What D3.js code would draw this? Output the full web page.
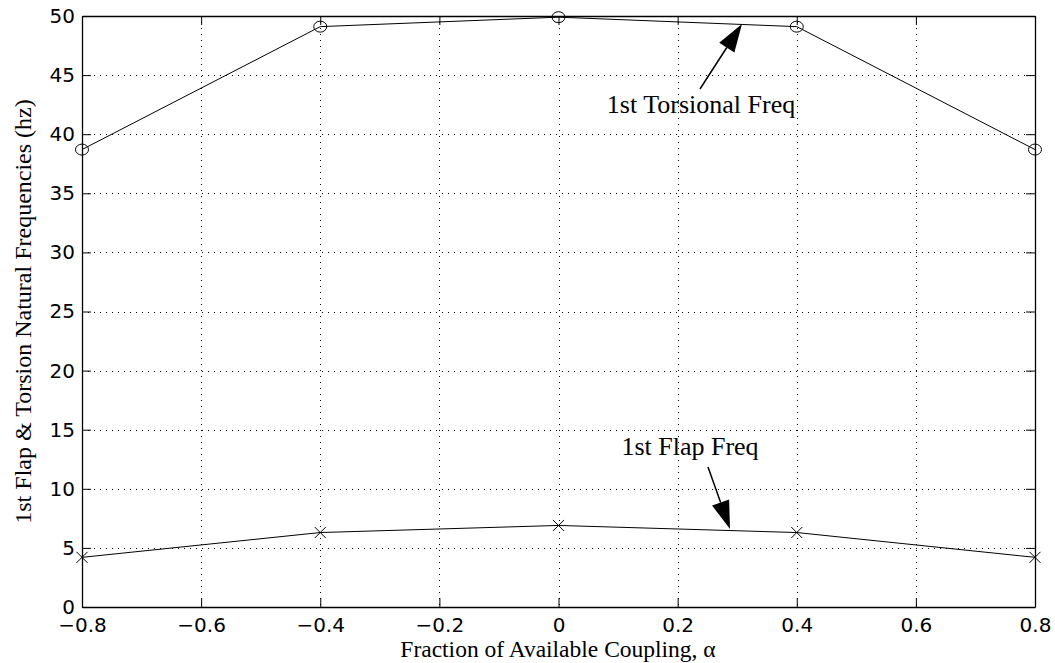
<!DOCTYPE html>
<html>
<head>
<meta charset="utf-8">
<script src="https://cdn.jsdelivr.net/npm/d3@7"></script>
<style>
  html, body { margin: 0; padding: 0; background: #fff; }
  svg { display: block; }
</style>
</head>
<body>
<svg id="chart" width="1055" height="663"></svg>
<script>
// Coupling fraction alpha
const alpha = [-0.8, -0.4, 0, 0.4, 0.8];
// 1st torsional natural frequency (hz)
const torsionFreq = [38.7, 49.1, 49.9, 49.1, 38.7];
// 1st flap natural frequency (hz)
const flapFreq = [4.2, 6.3, 6.9, 6.3, 4.2];
// Tick values
const xTicks = [-0.8, -0.6, -0.4, -0.2, 0, 0.2, 0.4, 0.6, 0.8];
const yTicks = [0, 5, 10, 15, 20, 25, 30, 35, 40, 45, 50];

const W = 1055, H = 663;
const m = { left: 82, right: 20, top: 16, bottom: 56 };
const svg = d3.select("#chart");

const x = d3.scaleLinear().domain([-0.8, 0.8]).range([m.left, W - m.right]);
const y = d3.scaleLinear().domain([0, 50]).range([H - m.bottom, m.top]);

const fmt = d => (d < 0 ? "\u2212" + Math.abs(d) : String(d));
const tickFont = "DejaVu Sans, sans-serif";
const serif = "Liberation Serif, Times New Roman, serif";

// dotted grid
const grid = svg.append("g").attr("stroke", "#000").attr("stroke-width", 1)
  .attr("stroke-dasharray", "1,5").attr("shape-rendering", "crispEdges");
xTicks.slice(1, -1).forEach(t => {
  grid.append("line").attr("x1", Math.round(x(t)) + 0.5).attr("x2", Math.round(x(t)) + 0.5)
    .attr("y1", y(50)).attr("y2", y(0));
});
yTicks.slice(1, -1).forEach(t => {
  grid.append("line").attr("y1", Math.round(y(t)) + 0.5).attr("y2", Math.round(y(t)) + 0.5)
    .attr("x1", x(-0.8)).attr("x2", x(0.8));
});

// axes with inward ticks on all four sides
const tl = 9;
const axB = svg.append("g").attr("transform", `translate(0,${y(0)})`)
  .call(d3.axisBottom(x).tickValues(xTicks).tickSizeInner(-tl).tickSizeOuter(0).tickPadding(11).tickFormat(fmt));
const axT = svg.append("g").attr("transform", `translate(0,${y(50)})`)
  .call(d3.axisTop(x).tickValues(xTicks).tickSizeInner(-tl).tickSizeOuter(0).tickFormat(""));
const axL = svg.append("g").attr("transform", `translate(${x(-0.8)},0)`)
  .call(d3.axisLeft(y).tickValues(yTicks).tickSizeInner(-tl).tickSizeOuter(0).tickPadding(7).tickFormat(fmt));
const axR = svg.append("g").attr("transform", `translate(${x(0.8)},0)`)
  .call(d3.axisRight(y).tickValues(yTicks).tickSizeInner(-tl).tickSizeOuter(0).tickFormat(""));

[axB, axT, axL, axR].forEach(a => {
  a.select(".domain").attr("stroke", "#000").attr("stroke-width", 1.3);
  a.selectAll(".tick line").attr("stroke", "#000").attr("stroke-width", 1);
  a.selectAll("text").attr("font-family", tickFont).attr("font-size", 20).attr("fill", "#000");
});
axB.selectAll("text").attr("dy", "0.71em");

// series lines
const line = d3.line().x((d, i) => x(alpha[i])).y(d => y(d));
svg.append("path").datum(torsionFreq).attr("d", line)
  .attr("fill", "none").attr("stroke", "#000").attr("stroke-width", 1);
svg.append("path").datum(flapFreq).attr("d", line)
  .attr("fill", "none").attr("stroke", "#000").attr("stroke-width", 1);

// circle markers for torsion
svg.append("g").selectAll("ellipse").data(torsionFreq).join("ellipse")
  .attr("cx", (d, i) => x(alpha[i])).attr("cy", d => y(d))
  .attr("rx", 6.5).attr("ry", 5.5)
  .attr("fill", "none").attr("stroke", "#000").attr("stroke-width", 1);

// cross markers for flap
const cs = 5.5;
svg.append("g").selectAll("path").data(flapFreq).join("path")
  .attr("d", (d, i) => {
    const cx = x(alpha[i]), cy = y(d);
    return `M${cx - cs},${cy - cs}L${cx + cs},${cy + cs}M${cx - cs},${cy + cs}L${cx + cs},${cy - cs}`;
  })
  .attr("fill", "none").attr("stroke", "#000").attr("stroke-width", 1);

// annotation arrows
function arrow(x1, y1, x2, y2) {
  const ang = Math.atan2(y2 - y1, x2 - x1);
  const hl = 28, hw = 9;
  const bx = x2 - hl * Math.cos(ang), by = y2 - hl * Math.sin(ang);
  const px = -Math.sin(ang) * hw, py = Math.cos(ang) * hw;
  svg.append("line").attr("x1", x1).attr("y1", y1).attr("x2", bx).attr("y2", by)
    .attr("stroke", "#000").attr("stroke-width", 1.5);
  svg.append("path")
    .attr("d", `M${x2},${y2}L${bx + px},${by + py}L${bx - px},${by - py}Z`)
    .attr("fill", "#000");
}
arrow(700, 89, 742, 24);
arrow(708, 467, 730, 529);

svg.append("text").attr("x", 701).attr("y", 113).attr("text-anchor", "middle")
  .attr("font-family", serif).attr("font-size", 26).text("1st Torsional Freq");
svg.append("text").attr("x", 690).attr("y", 455).attr("text-anchor", "middle")
  .attr("font-family", serif).attr("font-size", 26).text("1st Flap Freq");

// axis titles
svg.append("text").attr("x", 558).attr("y", 657).attr("text-anchor", "middle")
  .attr("font-family", serif).attr("font-size", 23.5).text("Fraction of Available Coupling, \u03b1");
svg.append("text").attr("transform", `translate(31,${(y(0) + y(50)) / 2}) rotate(-90)`)
  .attr("text-anchor", "middle")
  .attr("font-family", serif).attr("font-size", 24).text("1st Flap & Torsion Natural Frequencies (hz)");
</script>
</body>
</html>
